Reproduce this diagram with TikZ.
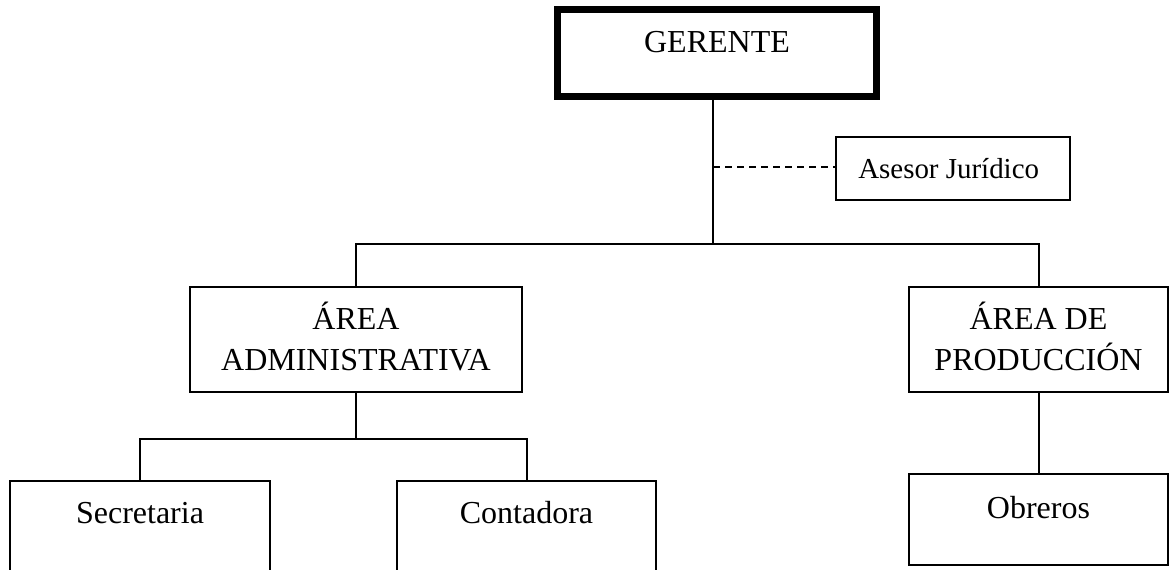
\documentclass[tikz,border=0pt]{standalone}
\usepackage{fontspec}
\setmainfont{Liberation Serif}
\begin{document}
\begin{tikzpicture}[x=0.75pt,y=-0.75pt,
  box/.style={draw, line width=1.5pt, rectangle, inner sep=0pt},
  head/.style={box, line width=5.25pt},
  lbl/.style={font=\fontsize{24}{28}\selectfont, inner sep=0pt, anchor=base},
  small/.style={lbl, font=\fontsize{21.7}{26}\selectfont, anchor=base west},
  link/.style={line width=1.5pt},
  aux/.style={link, dash pattern=on 5.25pt off 3.75pt}]
\useasboundingbox (0,0) rectangle (1172,570);
\clip (0,0) rectangle (1172,570);

% boxes
\node[head, minimum width=239.25pt, minimum height=65.25pt] (ger) at (717,53.5) {};
\node[box, minimum width=175.5pt, minimum height=47.25pt] (ases) at (953,168.5) {};
\node[box, minimum width=249pt, minimum height=78.75pt] (adm) at (356,339.5) {};
\node[box, minimum width=194.25pt, minimum height=78.75pt] (prod) at (1038.5,339.5) {};
\node[box, minimum width=195pt, minimum height=89.25pt] (sec) at (140,540.5) {};
\node[box, minimum width=194.25pt, minimum height=89.25pt] (cont) at (526.5,540.5) {};
\node[box, minimum width=194.25pt, minimum height=68.25pt] (obr) at (1038.5,519.5) {};

% labels
\node[lbl] (gerT) at (717,53) {GERENTE};
\node[small] (asesT) at (858,179) {Asesor Jurídico};
\node[lbl] (admA) at (356,330) {ÁREA};
\node[lbl] (admB) at (356,371) {ADMINISTRATIVA};
\node[lbl] (prodA) at (1038.5,330) {ÁREA DE};
\node[lbl] (prodB) at (1038.5,371) {PRODUCCIÓN};
\node[lbl] (secT) at (140,523) {Secretaria};
\node[lbl] (contT) at (526.5,523) {Contadora};
\node[lbl] (obrT) at (1038.5,518) {Obreros};

% connectors
\coordinate (hub) at (713,244);
\coordinate (tap) at (713,167);
\coordinate (hub2) at (356,439);
\draw[link] (ger.south -| hub) -- (hub);
\draw[aux] (tap) -- (tap -| ases.west);
\draw[link] (adm.north) |- (prod.north |- hub) -- (prod.north);
\draw[link] (adm.south) -- (hub2);
\draw[link] (sec.north) |- (hub2) -| (cont.north);
\draw[link] (prod.south) -- (obr.north);
\end{tikzpicture}
\end{document}
